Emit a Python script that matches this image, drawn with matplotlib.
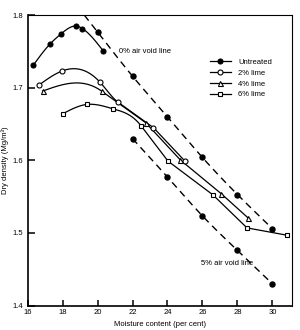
import numpy as np
import matplotlib
matplotlib.use("Agg")
import matplotlib.pyplot as plt

plt.rcParams['font.family'] = ['Liberation Sans', 'DejaVu Sans']

# ---- data ----
untreated_x = [16.32, 17.27, 17.90, 18.76, 19.14, 20.32]
untreated_y = [1.731, 1.760, 1.774, 1.785, 1.7815, 1.751]

lime2_x = [16.66, 17.96, 20.13, 21.18, 23.20, 25.00]
lime2_y = [1.704, 1.723, 1.708, 1.680, 1.645, 1.599]

lime4_x = [16.86, 20.23, 22.75, 24.74, 27.08, 28.60]
lime4_y = [1.6955, 1.6955, 1.652, 1.6005, 1.554, 1.521]

lime6_x = [18.03, 19.37, 20.89, 22.51, 24.03, 26.60, 28.55, 30.82]
lime6_y = [1.6645, 1.677, 1.671, 1.647, 1.599, 1.5525, 1.507, 1.497]

void_x = [20, 22, 24, 26, 28, 30]
void0_y = [1.777, 1.716, 1.660, 1.604, 1.553, 1.506]
void5_x = [22, 24, 26, 28, 30]
void5_y = [1.630, 1.577, 1.5235, 1.476, 1.430]

x_ticks = [16, 18, 20, 22, 24, 26, 28, 30]
y_ticks = [1.4, 1.5, 1.6, 1.7, 1.8]
labels = ["Untreated", "2% lime", "4% lime", "6% lime"]


def spline(x, y, d_end=None, n=300):
    """Cubic spline: natural start, natural or clamped end."""
    x = np.asarray(x, float); y = np.asarray(y, float)
    m = len(x)
    h = np.diff(x)
    A = np.zeros((m, m)); b = np.zeros(m)
    A[0, 0] = 1
    for i in range(1, m - 1):
        A[i, i - 1] = h[i - 1]
        A[i, i] = 2 * (h[i - 1] + h[i])
        A[i, i + 1] = h[i]
        b[i] = 6 * ((y[i + 1] - y[i]) / h[i] - (y[i] - y[i - 1]) / h[i - 1])
    if d_end is None:
        A[-1, -1] = 1
    else:
        A[-1, -2] = h[-1]
        A[-1, -1] = 2 * h[-1]
        b[-1] = 6 * (d_end - (y[-1] - y[-2]) / h[-1])
    M = np.linalg.solve(A, b)
    xs = np.linspace(x[0], x[-1], n)
    idx = np.clip(np.searchsorted(x, xs) - 1, 0, m - 2)
    x0 = x[idx]; x1 = x[idx + 1]; hh = h[idx]
    ys = (M[idx] * (x1 - xs)**3 / (6 * hh) + M[idx + 1] * (xs - x0)**3 / (6 * hh)
          + (y[idx] / hh - M[idx] * hh / 6) * (x1 - xs)
          + (y[idx + 1] / hh - M[idx + 1] * hh / 6) * (xs - x0))
    return xs, ys


def compaction_curve(x, y, k):
    """Smooth curve through points 0..k, straight segments after k."""
    x = list(x); y = list(y)
    if k >= len(x) - 1:
        return spline(x, y)
    d_end = (y[k + 1] - y[k]) / (x[k + 1] - x[k])
    xs, ys = spline(x[:k + 1], y[:k + 1], d_end=d_end)
    return np.concatenate([xs, x[k + 1:]]), np.concatenate([ys, y[k + 1:]])


fig = plt.figure(figsize=(3.0, 3.3), dpi=100)
ax = fig.add_axes([0.092, 0.074, 0.88, 0.880])

ymin, ymax = 1.4, 1.8
ax.set_xlim(16, 31.1)
ax.set_ylim(ymin, ymax)

lw = 0.9
ms = 3.6
series = [
    (untreated_x, untreated_y, 'o', 'black', 5),
    (lime2_x, lime2_y, 'o', 'white', 3),
    (lime4_x, lime4_y, '^', 'white', 1),
    (lime6_x, lime6_y, 's', 'white', 3),
]
for (sx, sy, mk, fc, k), lab in zip(series, labels):
    cx, cy = compaction_curve(sx, sy, k)
    ax.plot(cx, cy, color='black', lw=lw, zorder=2)
    kw = dict(marker=mk, ms=ms if mk != 's' else ms - 0.4, mfc=fc, mec='black', mew=0.8)
    ax.plot(sx, sy, linestyle='none', zorder=3, **kw)
    ax.plot([], [], color='black', lw=lw, label=lab, **kw)

dash = (0, (5, 3.5))
# 0% air void line, extended from first dot to the top of the axes
cx, cy = spline(void_x, void0_y)
slope0 = (void0_y[1] - void0_y[0]) / (void_x[1] - void_x[0])
x_top = void_x[0] + (ymax - void0_y[0]) / slope0
cx = np.concatenate([[x_top], cx]); cy = np.concatenate([[ymax], cy])
ax.plot(cx, cy, color='black', lw=1.0, linestyle=dash, zorder=1)
ax.plot(void_x, void0_y, 'o', ms=ms, color='black', zorder=3)

cx, cy = spline(void5_x, void5_y)
ax.plot(cx, cy, color='black', lw=1.0, linestyle=dash, zorder=1)
ax.plot(void5_x, void5_y, 'o', ms=ms, color='black', zorder=3)

fs = 5.5
ax.text(21.23, 1.750, "0% air void line", fontsize=fs, ha='left', va='center')
ax.text(25.9, 1.4584, "5% air void line", fontsize=fs, ha='left', va='center')

ax.set_xticks(x_ticks)
ax.set_yticks(y_ticks)
ax.set_yticklabels([f"{v:.1f}" for v in y_ticks])
ax.tick_params(axis='x', direction='in', length=4.3, width=1.1, labelsize=fs, pad=2.5)
ax.tick_params(axis='y', direction='in', length=5, width=1.1, labelsize=fs, pad=3.5)

ax.set_xlabel("Moisture content (per cent)", fontsize=fs, labelpad=3.5)
ax.set_ylabel("Dry density (Mg/m³)", fontsize=fs, labelpad=2)

for s in ['left', 'bottom']:
    ax.spines[s].set_linewidth(1.2)
for s in ['top', 'right']:
    ax.spines[s].set_linewidth(0.8)

ax.legend(loc='upper left', bbox_to_anchor=(0.69, 0.85), frameon=False, fontsize=fs,
          handlelength=2.8, handletextpad=0.9, labelspacing=0.45, borderpad=0,
          borderaxespad=0)

fig.savefig("out.png", dpi=100)
